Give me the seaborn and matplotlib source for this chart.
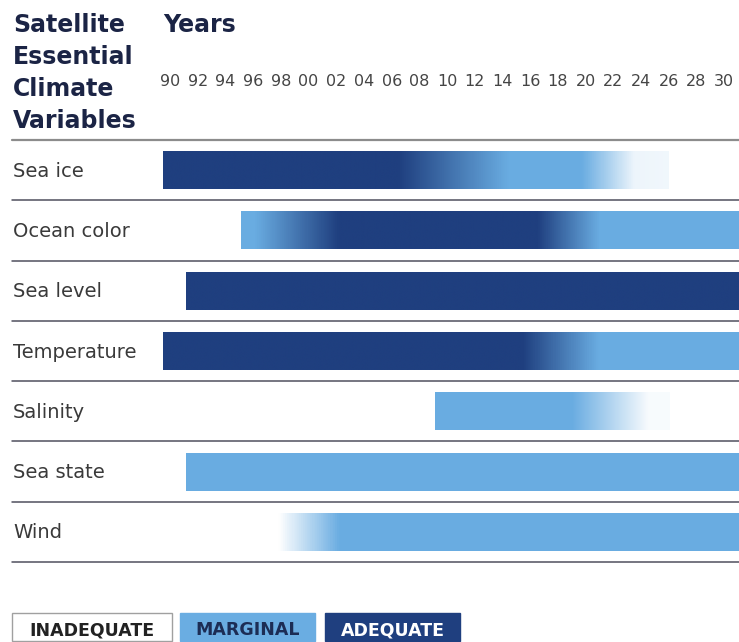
import numpy as np
import pandas as pd
import matplotlib
matplotlib.use("Agg")
import matplotlib.pyplot as plt
import seaborn as sns
import matplotlib.transforms as mtrans
from matplotlib.colors import LinearSegmentedColormap
from matplotlib.patches import Rectangle

# variables (rows, top to bottom)
variables = ['Sea ice', 'Ocean color', 'Sea level', 'Temperature',
             'Salinity', 'Sea state', 'Wind']

# rating along the years: 0 = inadequate, 1 = marginal, 2 = adequate
# (years where the rating changes, and the rating there)
sea_ice_years = [1989.5, 2006.5, 2014.5, 2019.8, 2023.6, 2026.0]
sea_ice_rating = [2, 2, 1, 1, 0.12, 0.1]
ocean_years = [1995.1, 1996.0, 2002.1, 2016.5, 2021.0, 2031.2]
ocean_rating = [1, 1, 2, 2, 1, 1]
sea_level_years = [1991.15, 2031.2]
sea_level_rating = [2, 2]
temp_years = [1989.5, 2015.5, 2021.0, 2031.2]
temp_rating = [2, 2, 1, 1]
salinity_years = [2009.1, 2019.0, 2024.5, 2026.0]
salinity_rating = [1, 1, 0.05, 0.05]
sea_state_years = [1991.15, 2031.2]
sea_state_rating = [1, 1]
wind_years = [1989.5, 1997.8, 2002.2, 2031.2]
wind_rating = [0, 0, 1, 1]

all_years = [sea_ice_years, ocean_years, sea_level_years, temp_years,
             salinity_years, sea_state_years, wind_years]
all_rating = [sea_ice_rating, ocean_rating, sea_level_rating, temp_rating,
              salinity_rating, sea_state_rating, wind_rating]

tick_years = list(range(1990, 2031, 2))
tick_labels = ['%02d' % (y % 100) for y in tick_years]

legend_names = ['INADEQUATE', 'MARGINAL', 'ADEQUATE']

WHITE = '#ffffff'
LIGHT = '#6aade2'
DARK = '#1f3f7f'
rating_cmap = LinearSegmentedColormap.from_list('rating', [(0, WHITE), (0.5, LIGHT), (1, DARK)])

sns.set_theme(style='white')
plt.rcParams['font.family'] = ['DejaVu Sans']

W, H = 739, 642
fig = plt.figure(figsize=(W / 100, H / 100), dpi=100)
ax = fig.add_axes([12 / W, 1 - 562 / H, 727 / W, 422 / H])

df = pd.DataFrame({'variable': variables,
                   'start': [y[0] for y in all_years],
                   'end': [y[-1] for y in all_years]})
df['span'] = df['end'] - df['start']

sns.barplot(data=df, y='variable', x='span', orient='h', width=0.63,
            color=LIGHT, ax=ax)

# move bars to their start year and paint the rating gradient in them
for patch, yrs, rt in zip(ax.patches, all_years, all_rating):
    x0, x1 = yrs[0], yrs[-1]
    patch.set_x(x0)
    patch.set_width(x1 - x0)
    patch.set_facecolor('none')
    patch.set_edgecolor('none')
    pos = (np.array(yrs) - x0) / (x1 - x0)
    cmap = LinearSegmentedColormap.from_list(
        'bar', [(p, rating_cmap(r / 2)) for p, r in zip(pos, rt)])
    y0, h = patch.get_y(), patch.get_height()
    ax.imshow(np.linspace(0, 1, 800)[None, :], extent=(x0, x1, y0 + h, y0),
              aspect='auto', cmap=cmap, interpolation='bilinear', zorder=2)

ax.set_xlim(1978.59, 2031.08)
ax.set_ylim(6.5, -0.5)

# row separators
for i in range(len(variables) + 1):
    if i == 0:
        ax.axhline(i - 0.5, color='#8c8c8c', lw=1.6, clip_on=False, zorder=3)
    else:
        ax.axhline(i - 0.5, color='#4f4f5e', lw=1.1, clip_on=False, zorder=3)

# row names
trans = mtrans.blended_transform_factory(ax.transAxes, ax.transData)
for i, name in enumerate(variables):
    ax.text(0.0015, i + 0.11, name, transform=trans, ha='left', va='baseline',
            fontsize=14, color='#3a3a3a')

ax.set_ylabel('')
ax.set_xlabel('')
ax.tick_params(left=False, labelleft=False, bottom=False, labelbottom=False)
ax.set_xticks(tick_years)
ax.set_xticklabels(tick_labels)
ax.xaxis.set_ticks_position('top')
ax.tick_params(axis='x', top=False, labeltop=True, pad=31, labelsize=11.5,
               labelcolor='#454545')
for s in ax.spines.values():
    s.set_visible(False)

# header
header_lines = ['Satellite', 'Essential', 'Climate', 'Variables']
for k, line in enumerate(header_lines):
    fig.text(13 / W, 1 - (31.5 + 32 * k) / H, line, ha='left', va='baseline',
             fontsize=17, fontweight='bold', color='#1b2445')
fig.text(163 / W, 1 - 31.5 / H, 'Years', ha='left', va='baseline',
         fontsize=17, fontweight='bold', color='#1b2445')

# legend boxes
boxes = [(12, 172, WHITE, '#222222'), (180, 315, LIGHT, '#1c2d55'),
         (325, 460, DARK, '#ffffff')]
for name, (bx0, bx1, fc, tc) in zip(legend_names, boxes):
    ec = '#a0a0a0' if fc == WHITE else fc
    fig.patches.append(Rectangle((bx0 / W, 1 - 641 / H), (bx1 - bx0) / W, 28 / H,
                                 transform=fig.transFigure, facecolor=fc,
                                 edgecolor=ec, lw=1))
    fig.text((bx0 + bx1) / 2 / W, 1 - 635 / H, name, ha='center', va='baseline',
             fontsize=12.5, fontweight='bold', color=tc)

fig.savefig('out.png', dpi=100)
